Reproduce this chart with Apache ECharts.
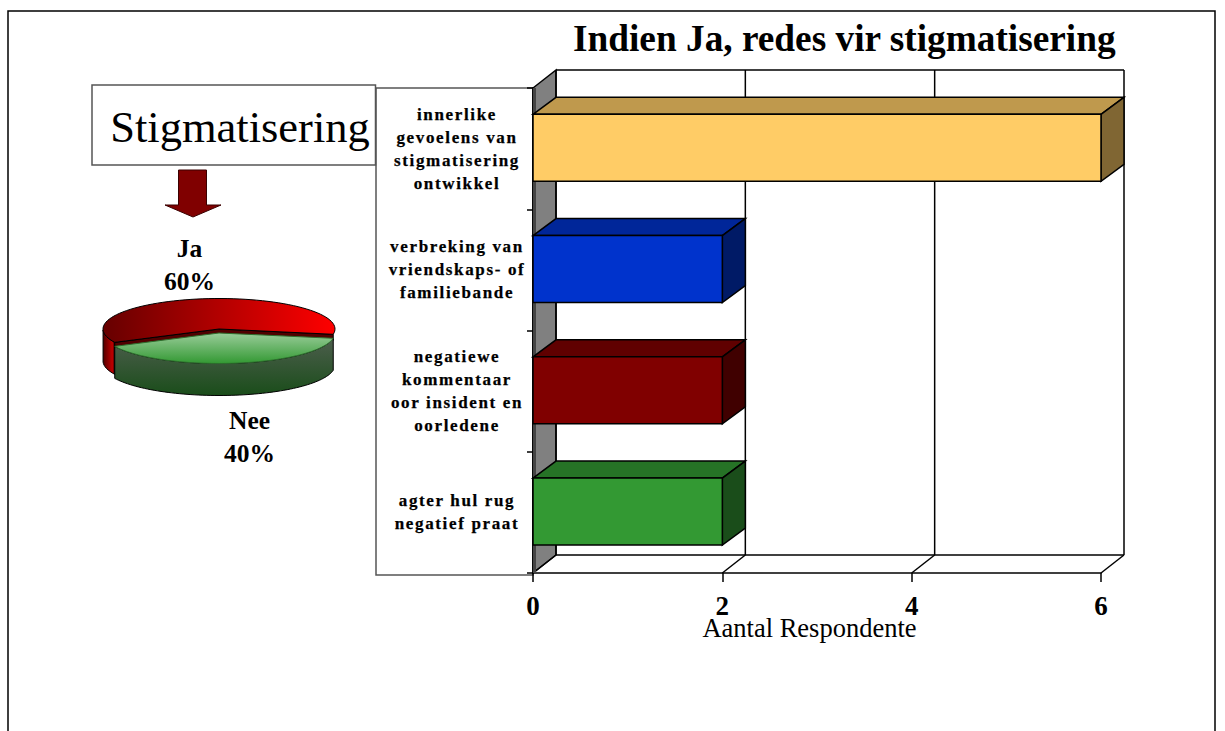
<!DOCTYPE html>
<html>
<head>
<meta charset="utf-8">
<style>
html,body{margin:0;padding:0;background:#fff;overflow:hidden}
#c{width:1225px;height:731px}
#c svg text[style*="17px"]{letter-spacing:1.65px;stroke:#000;stroke-width:.25px}
</style>
<script src="https://cdn.jsdelivr.net/npm/echarts@6/dist/echarts.min.js"></script>
</head>
<body>
<div id="c"></div>
<script>
const categories = [
  'innerlike\ngevoelens van\nstigmatisering\nontwikkel',
  'verbreking van\nvriendskaps- of\nfamiliebande',
  'negatiewe\nkommentaar\noor insident en\noorledene',
  'agter hul rug\nnegatief praat'
];
const barValues = [6, 2, 2, 2];
const xTicks = [0, 2, 4, 6];
const faceColors = ['#FFCC66', '#0033CC', '#800000', '#339933'];
const topColors = ['#BF994D', '#002699', '#600000', '#267326'];
const sideColors = ['#806633', '#001A66', '#400000', '#1A4D1A'];

const pieNames = ['Ja', 'Nee'];
const pieValues = [60, 40];

const FONT = '"Liberation Serif","Times New Roman",serif';
const DX = 23, DY = 18, BAR_DY = 17;
const INK = '#000';

function line(a, b, w, c) {
  return {type: 'line', shape: {x1: a[0], y1: a[1], x2: b[0], y2: b[1]}, style: {stroke: c || INK, lineWidth: w || 1.5}};
}
function poly(pts, fill, w) {
  return {type: 'polygon', shape: {points: pts}, style: {fill: fill, stroke: INK, lineWidth: w === undefined ? 1.5 : w}};
}

function renderFrame(params, api) {
  const v = api.value(0);
  const yExt = api.coord([0, 0]);
  const band = api.size([0, 1])[1];
  const top = yExt[1] - band / 2, bottom = top + band * categories.length;
  const x = api.coord([v, 0])[0];
  const x0 = api.coord([xTicks[0], 0])[0];
  const xMax = api.coord([xTicks[xTicks.length - 1], 0])[0];
  const ch = [
    line([x + DX, top - DY], [x + DX, bottom - DY]),
    line([x, bottom], [x + DX, bottom - DY])
  ];
  if (params.dataIndex === 0) {
    ch.unshift(poly([[x0, top], [x0 + DX, top - DY], [x0 + DX, bottom - DY], [x0, bottom]], '#808080'));
    ch.push(line([x0 + DX, top - DY], [xMax + DX, top - DY]));
    ch.push(line([x0 + DX, bottom - DY], [xMax + DX, bottom - DY]));
    ch.push({type: 'rect', shape: {x: x0, y: top, width: 3, height: bottom - top}, style: {fill: '#444'}});
  }
  return {type: 'group', children: ch};
}

function renderBar(params, api) {
  const i = params.dataIndex;
  const end = api.coord([api.value(0), api.value(1)]);
  const start = api.coord([0, api.value(1)]);
  const h = api.size([0, 1])[1] * 0.553;
  const cy = end[1] - 0.8;
  const t = cy - h / 2, b = cy + h / 2, l = start[0], r = end[0];
  return {type: 'group', children: [
    poly([[l, t], [l + DX, t - BAR_DY], [r + DX, t - BAR_DY], [r, t]], topColors[i]),
    poly([[r, t], [r + DX, t - BAR_DY], [r + DX, b - BAR_DY], [r, b]], sideColors[i]),
    poly([[l, t], [r, t], [r, b], [l, b]], faceColors[i])
  ]};
}

const PIE = {cx: 219, cy: 329, rx: 116, ry: 30.5, depth: 32, start: 10};
const PIE_OFFSET = [0, 4];
function pieTotal() { return pieValues.reduce((a, b) => a + b, 0); }
function renderPie(params, api) {
  const i = params.dataIndex, v = api.value(0), tot = pieTotal();
  const before = pieValues.slice(0, i).reduce((a, b) => a + b, 0);
  const a0 = PIE.start - before / tot * 360;
  const a1 = a0 - v / tot * 360;
  const off = i === 0 ? [0, 0] : PIE_OFFSET;
  const cx = PIE.cx + off[0], cy = PIE.cy + off[1];
  const at = d => [cx + PIE.rx * Math.cos(d * Math.PI / 180), cy + PIE.ry * Math.sin(d * Math.PI / 180)];
  const rim = [];
  for (let k = 0; k <= 72; k++) rim.push(at(a0 + (a1 - a0) * k / 72));
  const topFace = [[cx, cy]].concat(rim);
  const low = rim.filter(p => p[1] >= cy - 0.01);
  const children = [];
  if (i === 0) {
    const left = low.filter(p => p[0] < cx);
    const leftSorted = left.slice().sort((p, q) => p[0] - q[0]);
    const wall = leftSorted.concat(leftSorted.slice().reverse().map(p => [p[0], p[1] + PIE.depth]));
    children.push({type: 'polygon', shape: {points: wall}, style: {
      fill: {type: 'linear', x: 0, y: 0, x2: 1, y2: 0, colorStops: [{offset: 0, color: '#500000'}, {offset: 0.8, color: '#c00000'}, {offset: 1, color: '#300000'}]},
      stroke: INK, lineWidth: 1}});
    const cut = [rim[rim.length - 1], [cx, cy], rim[0]];
    const cutLow = cut.concat(cut.slice().reverse().map(p => [p[0], p[1] + 6]));
    children.push({type: 'polygon', shape: {points: cutLow}, style: {fill: '#500000', stroke: INK, lineWidth: 1}});
    children.push({type: 'polygon', shape: {points: topFace}, style: {
      fill: {type: 'linear', x: 0, y: 0, x2: 1, y2: 0, colorStops: [{offset: 0, color: '#660000'}, {offset: 1, color: '#ff0000'}]},
      stroke: INK, lineWidth: 1}});
  } else {
    const wall = low.concat(low.slice().reverse().map(p => [p[0], p[1] + PIE.depth]));
    children.push({type: 'polygon', shape: {points: wall}, style: {
      fill: {type: 'linear', x: 0, y: 0, x2: 0, y2: 1, colorStops: [{offset: 0, color: '#4d5e4d'}, {offset: 1, color: '#1a4d1a'}]},
      stroke: INK, lineWidth: 1}});
    children.push({type: 'polygon', shape: {points: topFace}, style: {
      fill: {type: 'linear', x: 0, y: 0, x2: 0, y2: 1, colorStops: [{offset: 0, color: '#99cc99'}, {offset: 1, color: '#339933'}]},
      stroke: '#2d6e2d', lineWidth: 1}});
  }
  return {type: 'group', children: children};
}

function txt(x, y, s, size, weight, align) {
  return {type: 'text', z: 5, x: x, y: y, style: {text: s, fill: '#000', font: (weight || 'normal') + ' ' + size + 'px ' + FONT,
    align: align || 'center', verticalAlign: 'middle', lineHeight: 33}};
}

const option = {
  animation: false,
  backgroundColor: '#fff',
  title: {
    text: 'Indien Ja, redes vir stigmatisering',
    left: 568, top: 15,
    textStyle: {fontFamily: FONT, fontWeight: 'bold', fontSize: 37.3, color: '#000'}
  },
  grid: {left: 533, top: 88, width: 568, height: 485, containLabel: false},
  xAxis: {
    type: 'value', min: 0, max: 6, interval: 2,
    axisLine: {show: true, onZero: false, lineStyle: {color: INK, width: 1.5}},
    axisTick: {show: true, length: 9, lineStyle: {color: INK, width: 1.5}},
    splitLine: {show: false},
    axisLabel: {fontFamily: FONT, fontWeight: 'bold', fontSize: 27, color: '#000', margin: 19},
    name: 'Aantal Respondente',
    nameLocation: 'middle', nameGap: 41, nameMoveOverlap: false,
    nameTextStyle: {fontFamily: FONT, fontSize: 26.5, color: '#000', padding: [0, 15, 0, 0]}
  },
  yAxis: {
    type: 'category', inverse: true, data: categories,
    axisLine: {show: true, lineStyle: {color: INK, width: 1.5}},
    axisTick: {show: true, length: 6, lineStyle: {color: INK, width: 1.5}},
    axisLabel: {fontFamily: FONT, fontWeight: 'bold', fontSize: 17, color: '#000', lineHeight: 23, align: 'center', margin: 76}
  },
  graphic: {elements: [
    {type: 'rect', z: -5, shape: {x: 8, y: 11, width: 1207, height: 760}, style: {fill: '#fff', stroke: '#000', lineWidth: 1.5}},
    {type: 'rect', z: -4, shape: {x: 376, y: 88, width: 157, height: 487}, style: {fill: '#fff', stroke: '#555', lineWidth: 1.5}},
    {type: 'rect', z: 3, shape: {x: 92, y: 85, width: 283.5, height: 80}, style: {fill: '#fff', stroke: '#555', lineWidth: 1.5}},
    txt(240, 127, 'Stigmatisering', 44.5),
    {type: 'polygon', z: 3, shape: {points: [[178.5, 170], [206.5, 170], [206.5, 205], [221, 205], [193, 217], [165, 205], [178.5, 205]]},
      style: {fill: '#800000', stroke: '#3a0000', lineWidth: 1}},
    txt(189.5, 265, pieNames[0] + '\n' + pieValues[0] + '%', 25.5, 'bold'),
    txt(249.5, 437, pieNames[1] + '\n' + pieValues[1] + '%', 25.5, 'bold')
  ]},
  series: [
    {type: 'custom', name: 'raam', z: 1, coordinateSystem: 'cartesian2d', silent: true,
      data: xTicks.map(v => [v, 0]), encode: {x: 0, y: 1}, renderItem: renderFrame},
    {type: 'custom', name: 'Aantal', z: 3, coordinateSystem: 'cartesian2d', silent: true,
      data: barValues.map((v, i) => [v, i]), encode: {x: 0, y: 1}, renderItem: renderBar},
    {type: 'custom', name: 'Stigmatisering', z: 3, coordinateSystem: 'none', silent: true,
      data: pieValues.map(v => [v]), renderItem: renderPie}
  ]
};
const chart = echarts.init(document.getElementById('c'), null, {renderer: 'svg', width: 1225, height: 731});
chart.setOption(option);
</script>
</body>
</html>
